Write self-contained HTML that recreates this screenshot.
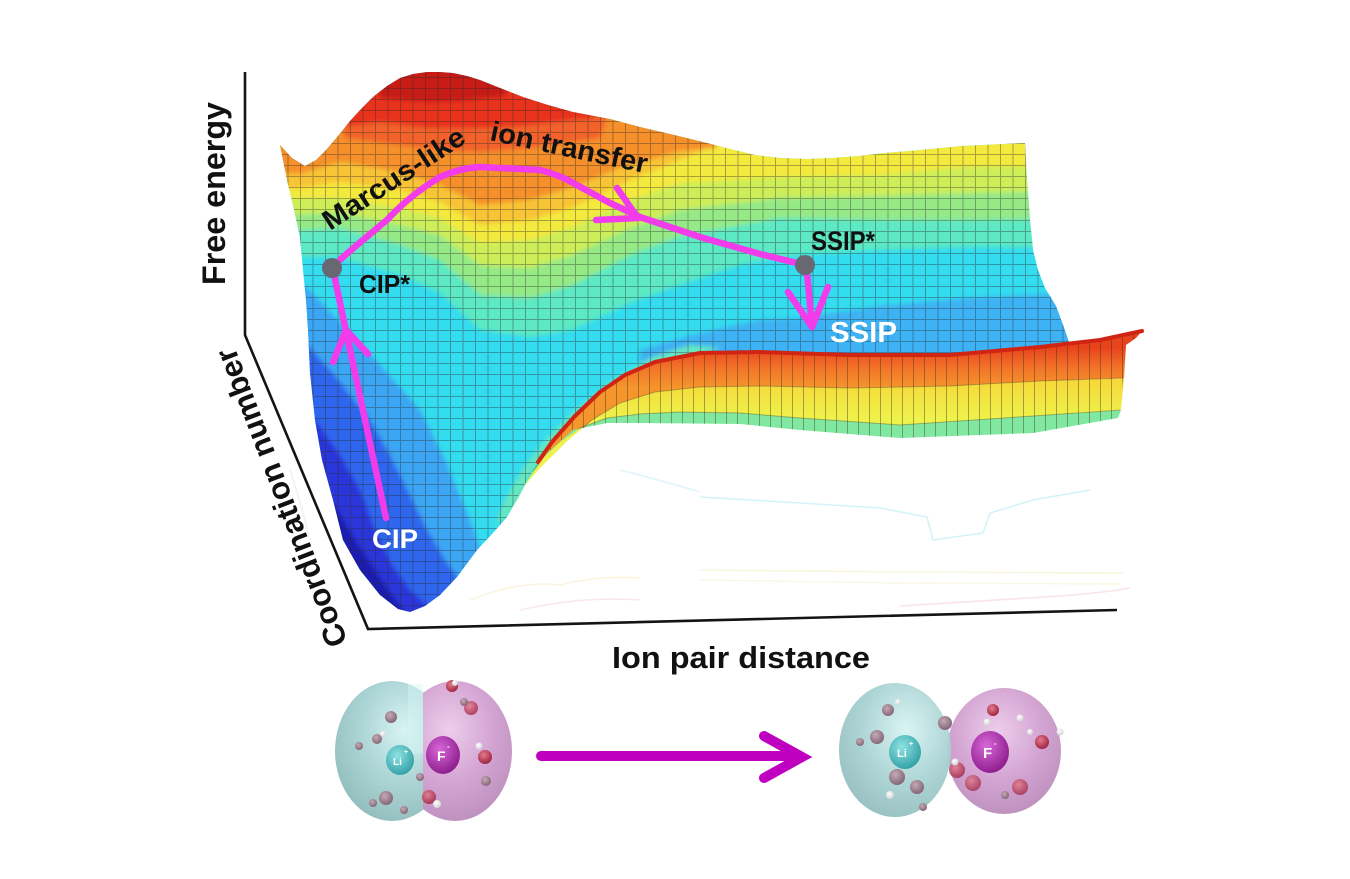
<!DOCTYPE html>
<html>
<head>
<meta charset="utf-8">
<style>
  html,body{margin:0;padding:0;background:#ffffff;}
  svg{display:block;}
  text{font-family:"Liberation Sans", Arial, sans-serif;font-weight:bold;}
</style>
</head>
<body>
<svg width="1350" height="879" viewBox="0 0 1350 879" xmlns="http://www.w3.org/2000/svg">
  <defs>
    <clipPath id="sheetClip">
      <path d="M280,145 L292,158 L305,166 L316,160 L326,150 L338,136 L350,121 L362,108 L373,97 L387,86 L400,78 L413,74 L427,72 L440,72 L453,73 L467,76 L480,80 L500,88 L523,97 L548,105 L573,112 L610,119 L640,127 L670,134 L703,142 L730,149 L755,155 L780,158 L807,159 L833,158 L859,156 L885,153 L910,151 L962,146 L1025,143 L1027,180 L1030,220 L1033,250 L1038,270 L1045,288 L1056,306 L1063,325 L1070,345 L1074,360 L1074,424 L1033,431 L900,436 L800,429 L740,423 L640,422 L607,422 L573,430 L547,453 L523,487 L507,517 L493,533 L477,550 L457,577 L440,595 L425,606 L410,612 L398,609 L380,595 L360,570 L343,540 L333,500 L322,460 L315,420 L310,373 L308,330 L306,300 L303,270 L300,237 L293,205 L287,180 Z"/>
    </clipPath>
    <clipPath id="faceClip">
      <path d="M507,517 L520,495 L532,472 L538,462 L552,442 L575,416 L600,392 L625,375 L655,362 L700,353 L760,352 L850,355 L950,355 L1040,347 L1100,340 L1142,331 L1136,338 L1126,345 L1123,378 L1120,410 L1118,418 L1033,433 L900,438 L800,430 L740,424 L640,423 L607,423 L573,430 L547,453 L523,487 Z"/>
    </clipPath>
    <filter id="soft" filterUnits="userSpaceOnUse" x="200" y="0" width="1000" height="700">
      <feGaussianBlur stdDeviation="2.5"/>
    </filter>
    <pattern id="grid" width="12.5" height="11" patternUnits="userSpaceOnUse">
      <path d="M0,0.5 H12.5 M0.5,0 V11" stroke="#2a2a2a" stroke-width="1" stroke-opacity="0.38" fill="none"/>
    </pattern>
    <pattern id="vgrid" width="11" height="30" patternUnits="userSpaceOnUse">
      <path d="M0.5,0 V30" stroke="#3a2a1a" stroke-width="1" stroke-opacity="0.4" fill="none"/>
    </pattern>
    <linearGradient id="og" gradientUnits="userSpaceOnUse" x1="0" y1="348" x2="0" y2="388">
      <stop offset="0" stop-color="#e8441c"/>
      <stop offset="0.5" stop-color="#f2742a"/>
      <stop offset="1" stop-color="#f5962c"/>
    </linearGradient>
    <linearGradient id="yg" gradientUnits="userSpaceOnUse" x1="0" y1="380" x2="0" y2="418">
      <stop offset="0" stop-color="#f6d83a"/>
      <stop offset="1" stop-color="#eef24a"/>
    </linearGradient>
    <radialGradient id="teal" cx="0.6" cy="0.35" r="0.7">
      <stop offset="0" stop-color="#d8f3f3"/>
      <stop offset="0.55" stop-color="#abd4d4"/>
      <stop offset="1" stop-color="#93bdbd"/>
    </radialGradient>
    <radialGradient id="pink" cx="0.45" cy="0.35" r="0.7">
      <stop offset="0" stop-color="#edcdec"/>
      <stop offset="0.55" stop-color="#d3a4d2"/>
      <stop offset="1" stop-color="#bb8fbb"/>
    </radialGradient>
    <radialGradient id="li" cx="0.4" cy="0.35" r="0.7">
      <stop offset="0" stop-color="#8fe3e3"/>
      <stop offset="1" stop-color="#2f9ea3"/>
    </radialGradient>
    <radialGradient id="fion" cx="0.4" cy="0.35" r="0.7">
      <stop offset="0" stop-color="#d866d8"/>
      <stop offset="1" stop-color="#8a1a8a"/>
    </radialGradient>
    <radialGradient id="wg" cx="0.4" cy="0.35" r="0.7">
      <stop offset="0" stop-color="#c6a9b6"/>
      <stop offset="1" stop-color="#7e6272"/>
    </radialGradient>
    <radialGradient id="wr" cx="0.4" cy="0.35" r="0.7">
      <stop offset="0" stop-color="#e67a88"/>
      <stop offset="1" stop-color="#9a2040"/>
    </radialGradient>
    <radialGradient id="wh" cx="0.4" cy="0.35" r="0.7">
      <stop offset="0" stop-color="#ffffff"/>
      <stop offset="1" stop-color="#cfcfcf"/>
    </radialGradient>
  </defs>

  <rect x="0" y="0" width="1350" height="879" fill="#ffffff"/>

  <!-- faint floor contour lines -->
  <g fill="none" stroke-width="1.5" opacity="0.35">
    <path d="M700,497 L800,503 L880,508 L927,517 L933,540 L983,533 L990,513 L1033,500 L1090,490" stroke="#7fdde8"/>
    <path d="M620,470 Q660,480 700,492" stroke="#9fe6ee"/>
    <path d="M700,570 L900,572 L1123,573" stroke="#f3e6a0"/>
    <path d="M700,580 L900,583 L1120,584" stroke="#f5eab8"/>
    <path d="M900,606 Q1000,600 1060,596 Q1110,592 1130,588" stroke="#f0b0c0"/>
    <path d="M470,600 Q520,580 560,585 Q600,575 640,578" stroke="#f3e2a0"/>
    <path d="M520,610 Q580,596 640,600" stroke="#f0c0c8"/>
    <path d="M290,470 Q300,500 310,540" stroke="#c0d8f0"/>
  </g>

  <!-- axes -->
  <g stroke="#141414" stroke-width="2.6" fill="none" stroke-linejoin="miter">
    <path d="M245,72 L245,335 L368,629 L1117,610"/>
  </g>

  <!-- back sheet -->
  <g clip-path="url(#sheetClip)">
    <rect x="250" y="40" width="880" height="620" fill="#34dcf0"/>
    <g filter="url(#soft)">
      <path fill="#5ce9c4" d="M260,40 L1100,40 L1100,248 L967,247 L880,250 L800,255 L740,265 L680,285 L630,303 L573,330 L530,337 L480,330 L440,293 L400,275 L340,258 L260,255 Z"/>
      <path fill="#95ea86" d="M260,40 L1100,40 L1100,218 L967,220 L880,220 L780,218 L680,236 L630,255 L573,285 L530,298 L480,295 L440,260 L400,245 L340,228 L260,233 Z"/>
      <path fill="#cdee58" d="M260,40 L1100,40 L1100,190 L967,193 L880,196 L780,198 L680,210 L630,228 L573,255 L530,268 L480,265 L440,235 L400,225 L340,213 L260,215 Z"/>
      <path fill="#f4e93c" d="M260,40 L1100,40 L1100,165 L967,167 L880,175 L780,177 L680,183 L630,200 L573,227 L530,240 L480,243 L440,218 L400,208 L340,198 L260,198 Z"/>
      <path fill="#f8c434" d="M260,40 L1100,40 L1100,100 L750,100 L705,150 L680,160 L630,180 L573,207 L530,220 L480,225 L440,202 L400,190 L340,182 L300,188 L260,188 Z"/>
      <path fill="#f5902a" d="M260,40 L1100,40 L1100,110 L735,110 L715,148 L680,151 L620,168 L573,187 L530,200 L480,205 L440,185 L400,172 L340,162 L320,168 L300,174 L260,172 Z"/>
      <path fill="#f2622a" d="M260,40 L1100,40 L1100,60 L625,60 L600,138 L573,142 L530,148 L480,152 L440,150 L400,145 L345,138 L330,60 L260,60 Z"/>
      <path fill="#e8321e" d="M260,40 L1100,40 L1100,60 L605,60 L595,118 L573,120 L530,125 L480,128 L430,128 L380,122 L348,126 L335,60 L260,60 Z"/>
      <path fill="#c71a12" d="M260,40 L1100,40 L1100,60 L520,60 L505,96 L470,100 L430,102 L380,98 L370,60 L260,60 Z"/>
      <!-- light blue near SSIP -->
      <path fill="#3cb2f4" d="M640,350 L700,333 L760,320 L800,318 L880,306 L967,298 L1100,292 L1100,460 L640,460 Z"/>
      <!-- left well -->
      <path fill="#3aa6f4" d="M260,285 L304,285 L340,322 L380,365 L420,410 L445,460 L470,520 L480,548 L480,700 L260,700 Z"/>
      <path fill="#2f66ee" d="M260,345 L308,345 L340,382 L370,420 L390,455 L410,495 L427,530 L445,560 L458,578 L458,700 L260,700 Z"/>
      <path fill="#2a34da" d="M260,420 L315,420 L340,455 L360,490 L375,530 L392,565 L410,590 L428,606 L428,700 L260,700 Z"/>
      <path fill="#1e1eb0" d="M260,505 L335,505 L355,540 L375,570 L392,595 L405,612 L405,700 L260,700 Z"/>
      <!-- aqua strip near ridge flank -->
      <path fill="#66e8c0" d="M495,525 L505,500 L522,470 L545,440 L575,410 L610,382 L650,358 L690,345 L720,348 L700,355 L655,363 L625,376 L600,393 L575,417 L552,443 L532,472 L520,495 L507,517 Z"/>
    </g>
    <rect x="250" y="40" width="880" height="620" fill="url(#grid)"/>
  </g>

  <!-- front ridge face -->
  <g>
    <path fill="url(#og)" d="M538,462 L552,442 L575,416 L600,392 L625,375 L655,362 L700,353 L760,352 L850,355 L950,355 L1040,347 L1100,340 L1142,331 L1136,338 L1126,345 L1124,378 L1040,381 L950,386 L850,388 L760,386 L700,387 L655,392 L620,403 L592,420 L568,440 L550,458 Z"/>
    <path fill="url(#yg)" d="M525,485 L540,468 L550,458 L568,440 L592,420 L620,403 L655,392 L700,387 L760,386 L850,388 L950,386 L1040,381 L1124,378 L1121,410 L1033,416 L900,425 L800,418 L740,413 L680,412 L640,414 L607,418 L580,428 L560,442 L545,456 L532,472 Z"/>
    <path fill="#80e8a0" d="M507,517 L520,495 L532,472 L545,456 L560,442 L580,428 L607,418 L640,414 L680,412 L740,413 L800,418 L900,425 L1033,416 L1121,410 L1118,418 L1033,433 L900,438 L800,430 L740,424 L640,423 L607,423 L573,430 L547,453 L523,487 Z"/>
    <g clip-path="url(#faceClip)">
      <rect x="490" y="320" width="660" height="130" fill="url(#vgrid)"/>
      <path d="M550,458 L568,440 L592,420 L620,403 L655,392 L700,387 L760,386 L850,388 L950,386 L1040,381 L1124,378" fill="none" stroke="#5a3a10" stroke-opacity="0.35" stroke-width="1"/>
      <path d="M532,472 L545,456 L560,442 L580,428 L607,418 L640,414 L680,412 L740,413 L800,418 L900,425 L1033,416 L1121,410" fill="none" stroke="#5a3a10" stroke-opacity="0.35" stroke-width="1"/>
    </g>
    <path d="M538,462 L552,442 L575,416 L600,392 L625,375 L655,362 L700,353 L760,352 L850,355 L950,355 L1040,347 L1100,340 L1142,331" fill="none" stroke="#d22412" stroke-width="4" stroke-linejoin="round" stroke-linecap="round"/>
  </g>

  <!-- pathway -->
  <g fill="none" stroke="#f23cec" stroke-width="6.5" stroke-linecap="round" stroke-linejoin="round">
    <path d="M386,518 L333,270"/>
    <path d="M333,362 L346,330 L368,354"/>
    <path d="M332,268 L343,257 Q365,238 387,220 Q410,195 440,177 Q460,168 480,167 L540,170 Q560,175 575,184 L610,203 L640,217 L700,237 L760,254 L805,265"/>
    <path d="M617,188 L638,218 L596,220"/>
    <path d="M807,273 L812,327"/>
    <path d="M788,292 L812,327 L828,287"/>
  </g>
  <circle cx="332" cy="268" r="10" fill="#686872"/>
  <circle cx="805" cy="265" r="10" fill="#686872"/>

  <!-- surface labels -->
  <text x="0" y="0" font-size="28" fill="#111" textLength="164" lengthAdjust="spacingAndGlyphs" transform="translate(330,231) rotate(-33)">Marcus-like</text>
  <text x="0" y="0" font-size="28" fill="#111" textLength="160" lengthAdjust="spacingAndGlyphs" transform="translate(489,140) rotate(12)">ion transfer</text>
  <text x="359" y="293" font-size="26" fill="#111" textLength="51" lengthAdjust="spacingAndGlyphs">CIP*</text>
  <text x="811" y="250" font-size="27" fill="#111" textLength="64" lengthAdjust="spacingAndGlyphs">SSIP*</text>
  <text x="830" y="342" font-size="29" fill="#ffffff" textLength="67" lengthAdjust="spacingAndGlyphs">SSIP</text>
  <text x="372" y="548" font-size="27" fill="#ffffff" textLength="46" lengthAdjust="spacingAndGlyphs">CIP</text>

  <!-- axis labels -->
  <text x="0" y="0" font-size="32" fill="#111" textLength="183" lengthAdjust="spacingAndGlyphs" transform="translate(225,285) rotate(-90)">Free energy</text>
  <text x="0" y="0" font-size="31" fill="#111" textLength="317" lengthAdjust="spacingAndGlyphs" transform="translate(348,642) rotate(-111)">Coordination number</text>
  <text x="612" y="668" font-size="31" fill="#111" textLength="258" lengthAdjust="spacingAndGlyphs">Ion pair distance</text>

  <!-- left molecule (CIP) -->
  <g>
    <ellipse cx="392" cy="751" rx="57" ry="70" fill="url(#teal)"/>
    <clipPath id="pinkL"><rect x="423" y="670" width="100" height="170"/></clipPath>
    <ellipse cx="455" cy="751" rx="57" ry="70" fill="url(#pink)" clip-path="url(#pinkL)"/>
    <rect x="408" y="684" width="15" height="70" fill="#d6f6f6" opacity="0.45"/>
    <circle cx="391" cy="717" r="6" fill="url(#wg)"/>
    <circle cx="377" cy="739" r="5" fill="url(#wg)"/>
    <circle cx="383" cy="734" r="3" fill="url(#wh)"/>
    <circle cx="359" cy="746" r="4" fill="url(#wg)"/>
    <circle cx="386" cy="798" r="7" fill="url(#wg)"/>
    <circle cx="373" cy="803" r="4" fill="url(#wg)"/>
    <circle cx="404" cy="810" r="4" fill="url(#wg)"/>
    <circle cx="452" cy="686" r="6" fill="url(#wr)"/>
    <circle cx="455" cy="683" r="3" fill="url(#wh)"/>
    <circle cx="471" cy="708" r="7" fill="url(#wr)" opacity="0.8"/>
    <circle cx="464" cy="702" r="4" fill="url(#wg)"/>
    <circle cx="479" cy="746" r="3.5" fill="url(#wh)"/>
    <circle cx="485" cy="757" r="7" fill="url(#wr)"/>
    <circle cx="429" cy="797" r="7" fill="url(#wr)" opacity="0.85"/>
    <circle cx="437" cy="804" r="4" fill="url(#wh)"/>
    <circle cx="486" cy="781" r="5" fill="url(#wg)"/>
    <circle cx="420" cy="777" r="4" fill="url(#wg)"/>
    <ellipse cx="400" cy="760" rx="14" ry="15" fill="url(#li)"/>
    <text x="393" y="765" font-size="10" fill="#ffffff">Li</text>
    <text x="404" y="754" font-size="7" fill="#ffffff">+</text>
    <ellipse cx="443" cy="755" rx="17" ry="19" fill="url(#fion)"/>
    <text x="437" y="761" font-size="14" fill="#ffffff">F</text>
    <text x="447" y="749" font-size="8" fill="#ffffff">-</text>
  </g>

  <!-- arrow -->
  <g fill="none" stroke="#c000c0" stroke-width="10" stroke-linecap="round" stroke-linejoin="miter">
    <path d="M541,756 L796,756"/>
    <path d="M764,736 L802,757 L764,778"/>
  </g>

  <!-- right molecule (SSIP) -->
  <g>
    <ellipse cx="1004" cy="751" rx="57" ry="63" fill="url(#pink)"/>
    <ellipse cx="895" cy="750" rx="56" ry="67" fill="url(#teal)" opacity="0.95"/>
    <circle cx="888" cy="710" r="6" fill="url(#wg)"/>
    <circle cx="898" cy="702" r="3" fill="url(#wh)"/>
    <circle cx="877" cy="737" r="7" fill="url(#wg)"/>
    <circle cx="860" cy="742" r="4" fill="url(#wg)"/>
    <circle cx="897" cy="777" r="8" fill="url(#wg)"/>
    <circle cx="917" cy="787" r="7" fill="url(#wg)"/>
    <circle cx="890" cy="795" r="4" fill="url(#wh)"/>
    <circle cx="923" cy="807" r="4" fill="url(#wg)"/>
    <circle cx="945" cy="723" r="7" fill="url(#wg)"/>
    <circle cx="993" cy="710" r="6" fill="url(#wr)"/>
    <circle cx="987" cy="722" r="3.5" fill="url(#wh)"/>
    <circle cx="1020" cy="718" r="3.5" fill="url(#wh)"/>
    <circle cx="1042" cy="742" r="7" fill="url(#wr)"/>
    <circle cx="1030" cy="732" r="3" fill="url(#wh)"/>
    <circle cx="1060" cy="732" r="3.5" fill="url(#wh)"/>
    <circle cx="957" cy="770" r="8" fill="url(#wr)" opacity="0.8"/>
    <circle cx="955" cy="762" r="3.5" fill="url(#wh)"/>
    <circle cx="973" cy="783" r="8" fill="url(#wr)" opacity="0.75"/>
    <circle cx="1020" cy="787" r="8" fill="url(#wr)" opacity="0.75"/>
    <circle cx="1005" cy="795" r="4" fill="url(#wg)"/>
    <ellipse cx="905" cy="752" rx="16" ry="17" fill="url(#li)"/>
    <text x="897" y="757" font-size="11" fill="#ffffff">Li</text>
    <text x="909" y="746" font-size="7" fill="#ffffff">+</text>
    <ellipse cx="990" cy="752" rx="19" ry="21" fill="url(#fion)"/>
    <text x="983" y="758" font-size="15" fill="#ffffff">F</text>
    <text x="994" y="746" font-size="8" fill="#ffffff">-</text>
  </g>
</svg>
</body>
</html>
